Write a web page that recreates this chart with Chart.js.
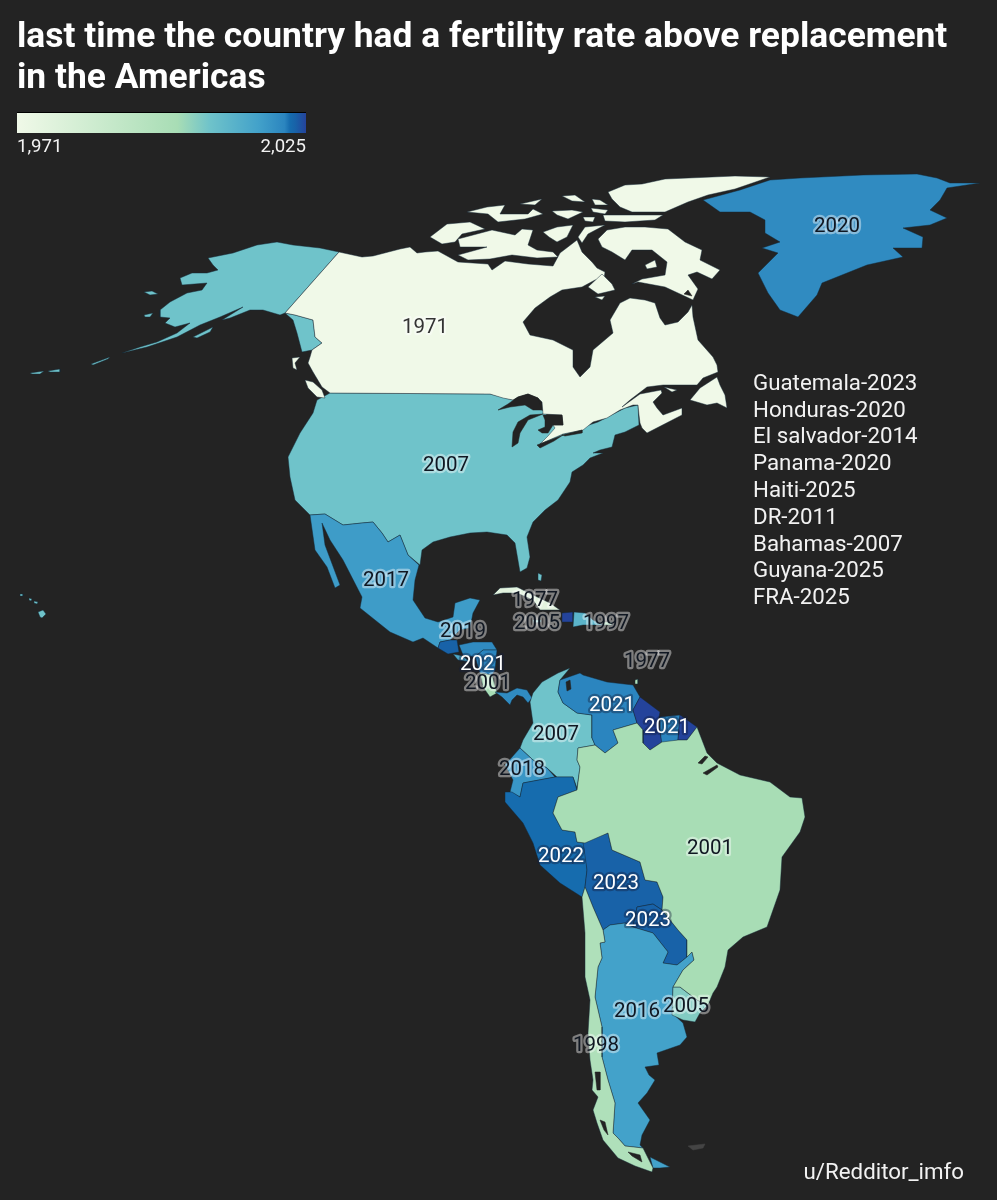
<!DOCTYPE html>
<html>
<head>
<meta charset="utf-8">
<title>last time the country had a fertility rate above replacement in the Americas</title>
<script src="https://cdn.jsdelivr.net/npm/chart.js@4"></script>
<style>
    html, body { margin: 0; padding: 0; background: #232323; }
    canvas { display: block; }
</style>
</head>
<body>
<canvas id="map" width="997" height="1200"></canvas>
<script>
const canadaMain = [[339,252],[285,313],[295,315],[313,320],[315,337],[322,343],[312,350],[310,357],[308,363],[313,372],[322,387],[330,393],[490,394],[503,398],[513,400],[518,397],[528,394],[538,398],[542,402],[543,414],[562,415],[563,425],[553,425],[555,428],[548,436],[540,444],[563,434],[583,430],[593,422],[607,418],[620,410],[633,405],[638,405],[639,415],[640,423],[642,428],[647,433],[682,415],[682,408],[663,415],[657,408],[653,402],[662,393],[661,390],[640,394],[622,407],[630,400],[647,387],[663,385],[697,385],[703,378],[718,372],[717,365],[713,357],[698,340],[693,317],[692,305],[688,312],[678,322],[665,325],[660,318],[655,303],[645,300],[630,298],[620,303],[610,320],[613,333],[593,350],[590,367],[580,377],[573,367],[573,350],[553,340],[530,335],[523,322],[535,308],[550,297],[562,290],[582,287],[595,280],[604,279],[605,272],[597,268],[592,262],[582,252],[577,240],[560,253],[553,266],[528,264],[505,261],[492,270],[488,264],[458,262],[438,251],[425,252],[417,253],[410,247],[400,249],[373,256],[362,257]];
const banks = [[430,237],[447,224],[470,222],[485,229],[462,234],[455,242],[442,244]];
const victoria = [[458,239],[492,230],[515,235],[522,229],[533,230],[528,245],[537,250],[553,252],[558,257],[537,258],[512,255],[490,259],[468,260],[458,255],[487,247],[460,247]];
const princeWales = [[543,232],[557,227],[573,225],[567,237],[557,242],[549,237]];
const somerset = [[578,237],[585,227],[605,225],[588,234],[582,243]];
const baffin = [[598,239],[607,230],[625,227],[645,227],[668,229],[685,242],[702,250],[700,260],[720,270],[712,279],[697,272],[688,275],[698,289],[693,300],[665,287],[638,282],[632,284],[642,279],[665,275],[667,262],[652,250],[632,250],[625,260],[612,252],[602,247]];
const princeCharles = [[645,265],[655,260],[657,267],[647,269]];
const southampton = [[588,287],[602,274],[612,284],[615,290],[598,294]];
const coats = [[595,297],[605,296],[602,300]];
const melville = [[467,212],[487,207],[505,205],[500,214],[528,214],[533,209],[543,214],[525,219],[498,222],[488,214]];
const arcticA = [[520,204],[542,199],[535,205]];
const arcticB = [[562,196],[575,195],[585,202],[572,201]];
const arcticC = [[552,211],[572,210],[583,212],[568,219],[557,215]];
const arcticD = [[592,199],[600,200],[608,205],[595,205]];
const arcticE = [[583,217],[595,217],[593,222],[585,221]];
const arcticF = [[591,208],[608,210],[605,214],[593,212]];
const devon = [[603,215],[638,215],[663,215],[655,220],[625,222],[605,221]];
const ellesmere = [[608,192],[625,185],[642,184],[665,179],[712,177],[735,176],[770,177],[735,189],[708,195],[688,202],[665,212],[632,212],[620,207],[612,199]];
const anticosti = [[664,387],[677,390],[672,392]];
const newfoundland = [[690,400],[700,388],[717,377],[720,385],[725,395],[727,408],[717,403],[707,405]];
const vancouverIs = [[305,380],[313,382],[322,390],[325,398],[317,397],[308,388]];
const haidaGwaii = [[292,358],[300,357],[295,363],[297,370],[293,368]];

const lowerUS = [[330,393],[490,394],[513,400],[542,410],[565,433],[598,422],[625,408],[638,405],[639,425],[625,432],[615,435],[612,447],[600,450],[593,453],[603,453],[590,458],[583,465],[572,472],[570,482],[558,500],[545,510],[533,522],[527,537],[530,557],[527,568],[520,572],[515,543],[507,535],[487,532],[470,533],[450,537],[433,542],[422,550],[420,565],[408,555],[400,535],[388,542],[382,533],[373,522],[362,523],[343,525],[325,514],[310,515],[295,500],[290,477],[288,457],[300,433],[313,413],[317,400]];
const alaska = [[339,252],[320,248],[293,245],[277,242],[257,245],[233,253],[208,258],[213,265],[218,270],[207,273],[192,273],[180,278],[182,285],[207,283],[202,290],[187,293],[170,302],[160,310],[160,317],[170,318],[165,323],[175,327],[190,323],[177,333],[157,342],[140,347],[122,353],[147,347],[177,337],[200,325],[220,317],[243,307],[222,320],[230,318],[250,310],[263,310],[280,315],[285,313]];
const panhandle = [[285,313],[295,315],[313,320],[315,337],[322,343],[312,350],[302,352],[297,333],[293,320]];
const aleutianA = [[91,364],[110,357],[108,359],[93,365]];
const aleutianB = [[48,371],[60,369],[60,372],[50,372]];
const aleutianC = [[30,373],[44,371],[40,374],[32,374]];
const kodiak = [[193,337],[213,327],[210,332],[197,338]];
const stLawrenceIs = [[144,292],[152,291],[158,294],[150,295]];
const nunivak = [[144,315],[153,313],[150,317],[145,317]];
const hawaii = [[38,612],[43,610],[46,614],[42,618],[40,617]];
const maui = [[34,601],[38,602],[37,604],[34,603]];
const oahu = [[29,598],[32,599],[31,601],[29,600]];
const kauai = [[20,594],[23,594],[23,596],[20,596]];

const greenland = [[980,183],[947,188],[940,200],[930,210],[947,218],[930,225],[903,228],[923,237],[922,248],[893,248],[903,257],[867,265],[837,277],[822,283],[817,295],[798,317],[780,310],[768,293],[758,273],[778,253],[762,248],[780,242],[765,233],[765,220],[750,212],[720,212],[703,200],[740,190],[770,180],[800,178],[863,175],[917,174],[937,178],[950,183]];

const mexico = [[310,515],[325,514],[343,525],[362,523],[373,522],[382,533],[388,542],[400,535],[408,555],[419,565],[415,580],[413,600],[425,618],[438,622],[453,617],[455,603],[470,598],[480,600],[473,613],[470,628],[460,630],[450,640],[440,642],[438,648],[423,638],[413,642],[390,632],[360,608],[362,597],[343,560],[330,540],[322,523],[325,545],[340,585],[335,588],[327,567],[315,550]];
const guatemala = [[438,648],[440,642],[450,640],[457,640],[459,652],[448,654]];
const honduras = [[459,645],[473,642],[492,642],[497,650],[483,650],[475,657],[463,655]];
const elSalvador = [[453,654],[463,656],[470,662],[458,660]];
const nicaragua = [[475,657],[483,650],[497,650],[495,670],[492,675],[480,673]];
const costaRica = [[480,673],[492,675],[497,693],[490,697],[483,687]];
const panama = [[495,692],[507,693],[517,688],[527,690],[532,698],[528,703],[523,697],[517,695],[512,700],[510,705],[502,697]];
const cuba = [[493,595],[500,588],[517,587],[533,595],[550,603],[560,610],[540,610],[533,600],[517,593],[503,593]];
const bahamas = [[538,573],[542,575],[541,581],[538,580]];
const jamaica = [[533,620],[541,620],[541,622],[534,623]];
const haiti = [[562,613],[573,612],[573,622],[562,622]];
const dominican = [[574,612],[585,613],[593,620],[603,625],[583,625],[573,627]];
const puertoRico = [[603,622],[612,622],[612,625],[603,625]];
const trinidad = [[635,680],[638,679],[638,684],[635,684]];

const colombia = [[530,702],[533,693],[542,682],[558,673],[570,668],[560,680],[558,692],[563,703],[577,713],[592,715],[592,738],[595,745],[578,748],[577,760],[580,767],[577,788],[573,777],[557,777],[547,768],[533,760],[520,748],[523,740],[533,723]];
const venezuela = [[558,692],[560,680],[580,673],[583,675],[607,682],[633,685],[640,697],[633,710],[637,723],[613,730],[618,743],[605,753],[595,745],[592,738],[592,715],[577,713],[563,703]];
const guyana = [[640,697],[660,712],[658,722],[662,742],[650,750],[643,743],[643,730],[637,723],[633,710]];
const suriname = [[660,717],[680,715],[678,740],[662,745],[660,730]];
const frenchGuiana = [[680,715],[697,727],[687,740],[678,740]];
const ecuador = [[520,748],[533,760],[547,768],[555,777],[523,783],[520,797],[510,792],[513,780],[505,765]];
const peru = [[523,783],[555,777],[573,777],[577,790],[558,797],[553,813],[562,830],[575,832],[577,842],[585,843],[587,870],[585,887],[582,897],[560,883],[540,865],[533,843],[523,823],[505,802],[505,792],[512,792],[520,797]];
const bolivia = [[583,842],[608,833],[612,850],[640,862],[645,880],[657,882],[663,897],[662,910],[653,904],[637,907],[633,927],[625,923],[610,925],[603,930],[593,907],[585,887],[587,870]];
const paraguay = [[637,907],[653,904],[662,910],[678,930],[687,940],[687,957],[677,965],[663,963],[668,952],[653,933],[633,927]];
const argentina = [[603,930],[610,925],[625,923],[633,927],[653,933],[668,952],[663,963],[677,965],[687,957],[692,952],[694,960],[683,970],[673,987],[672,1013],[683,1023],[687,1037],[680,1045],[657,1053],[659,1065],[645,1067],[649,1075],[655,1080],[647,1093],[638,1103],[650,1120],[642,1135],[640,1145],[643,1148],[625,1146],[618,1138],[613,1133],[615,1103],[608,1080],[602,1057],[602,1027],[595,997],[598,967],[602,958],[600,943],[605,942]];
const fuegoEast = [[650,1157],[670,1167],[660,1168],[653,1168]];
const chile = [[582,897],[585,887],[593,907],[603,930],[605,942],[600,943],[602,958],[598,967],[595,997],[602,1027],[602,1057],[608,1080],[615,1103],[613,1133],[618,1138],[625,1146],[643,1148],[653,1168],[652,1172],[635,1166],[618,1158],[603,1140],[597,1123],[593,1110],[598,1097],[592,1090],[593,1080],[590,1060],[588,1033],[590,1000],[585,977],[585,933]];
const uruguay = [[673,987],[680,987],[697,1000],[708,1005],[700,1013],[695,1022],[683,1020],[672,1015]];
const brazil = [[637,723],[643,730],[643,743],[650,750],[662,742],[678,740],[687,740],[697,727],[702,740],[707,753],[717,763],[740,775],[770,782],[790,797],[802,798],[805,817],[800,832],[782,857],[780,890],[767,927],[743,937],[728,950],[725,967],[717,987],[713,993],[708,1005],[697,1000],[680,987],[673,987],[683,970],[694,960],[692,952],[687,957],[687,940],[678,930],[662,910],[663,897],[657,882],[645,880],[640,862],[612,850],[608,833],[585,843],[577,842],[575,832],[562,830],[553,813],[558,797],[577,790],[580,767],[577,760],[578,748],[595,745],[605,753],[618,743],[613,730]];
const falklands = [[688,1146],[705,1144],[703,1148],[693,1150]];

// water cut back out over the land
const superior = [[498,410],[508,404],[518,397],[528,394],[538,398],[542,410],[533,410],[525,405],[510,407]];
const michigan = [[512,447],[513,432],[518,422],[530,415],[543,414],[528,420],[520,433],[518,443]];
const huron = [[543,415],[562,415],[563,425],[553,425],[548,433],[542,433],[538,430],[545,427],[545,420]];
const erie = [[537,445],[550,440],[563,435],[554,441],[540,448]];
const ontario = [[562,435],[582,430],[582,433],[565,436]];
const maracaibo = [[566,682],[570,680],[571,689],[567,691]];
const chileFjordA = [[595,1072],[600,1072],[600,1090],[597,1090]];
const chileFjordB = [[600,1120],[605,1122],[608,1135],[604,1130]];
const chileFjordC = [[628,1152],[640,1155],[642,1162],[632,1156]];
const amazonA = [[698,763],[705,756],[708,757],[702,764]];
const amazonB = [[703,773],[717,765],[718,767],[707,775]];
const baffinInlet = [[688,290],[692,296],[684,294]];

const shapes = [
    lowerUS, alaska, panhandle, aleutianA, aleutianB, aleutianC, kodiak, stLawrenceIs, nunivak, hawaii, maui, oahu, kauai, bahamas,
    canadaMain, banks, victoria, princeWales, somerset, baffin, princeCharles, southampton, coats, melville, arcticA, arcticB, arcticC, arcticD, arcticE, arcticF, devon, ellesmere, anticosti, newfoundland, vancouverIs, haidaGwaii,
    greenland, mexico, guatemala, honduras, elSalvador, nicaragua, costaRica, panama,
    cuba, jamaica, haiti, dominican, puertoRico, trinidad,
    colombia, venezuela, guyana, suriname, frenchGuiana, ecuador, peru, bolivia, paraguay, argentina, fuegoEast, chile, uruguay, brazil
];
const shapeYears = [
    2007, 2007, 2007, 2007, 2007, 2007, 2007, 2007, 2007, 2007, 2007, 2007, 2007, 2007,
    1971, 1971, 1971, 1971, 1971, 1971, 1971, 1971, 1971, 1971, 1971, 1971, 1971, 1971, 1971, 1971, 1971, 1971, 1971, 1971, 1971, 1971,
    2020, 2017, 2023, 2020, 2014, 2021, 2001, 2020,
    1977, 2005, 2025, 2011, 1997, 1998,
    2007, 2021, 2025, 2021, 2025, 2018, 2022, 2023, 2023, 2016, 2016, 1998, 2005, 2001
];
const waterShapes = [superior, michigan, huron, erie, ontario, maracaibo, chileFjordA, chileFjordB, chileFjordC, amazonA, amazonB, baffinInlet];

// values printed on the map, and where each one sits
const labelYears = ['2020', '1971', '2007', '2017', '2019', '2021', '2001', '1977', '2005', '1997', '1977', '2021', '2021', '2007', '2018', '2001', '2022', '2023', '2023', '2016', '2005', '1998'];
const labelX = [837, 425, 446, 386, 463, 483, 488, 535, 537, 606, 647, 612, 667, 556, 522, 710, 561, 616, 648, 637, 686, 596];
const labelY = [227, 328, 466, 581, 632, 665, 684, 601, 624, 624, 662, 706, 728, 735, 770, 849, 857, 884, 921, 1012, 1007, 1046];

const sideNotes = ['Guatemala-2023', 'Honduras-2020', 'El salvador-2014', 'Panama-2020', 'Haiti-2025', 'DR-2011', 'Bahamas-2007', 'Guyana-2025', 'FRA-2025'];
const sideNoteY = [384, 411, 437, 464, 491, 518, 545, 571, 598];

const titleLines = ['last time the country had a fertility rate above replacement', 'in the Americas'];
const scaleLabels = ['1,971', '2,025'];
const scaleYears = [1971, 2001, 2007, 2016, 2021, 2022, 2023, 2025];
const scaleColors = ['#f0f9e8', '#a8ddb5', '#6fc3ca', '#43a2ca', '#2b85bf', '#166cae', '#1862a8', '#24439b'];

const BACKGROUND = '#232323';
const FONT = 'Roboto, sans-serif';

function hexToRgb(hex) {
    return [1, 3, 5].map(i => parseInt(hex.slice(i, i + 2), 16));
}

function colorForYear(year) {
    for (let i = 1; i < scaleYears.length; i += 1) {
        if (year <= scaleYears[i]) {
            const t = (year - scaleYears[i - 1]) / (scaleYears[i] - scaleYears[i - 1]);
            const a = hexToRgb(scaleColors[i - 1]);
            const b = hexToRgb(scaleColors[i]);
            const mix = a.map((v, k) => Math.round(v + (b[k] - v) * t));
            return `rgb(${mix.join(',')})`;
        }
    }
    return scaleColors[scaleColors.length - 1];
}

function makeDataset(ring, fill, border, width) {
    const closed = ring.concat([ring[0]]);
    return {
        data: closed.map(p => ({ x: p[0], y: p[1] })),
        showLine: true,
        fill: 'shape',
        backgroundColor: fill,
        borderColor: border,
        borderWidth: width,
        pointRadius: 0,
        tension: 0
    };
}

const datasets = [];
shapes.forEach((ring, i) => {
    datasets.push(makeDataset(ring, colorForYear(shapeYears[i]), 'rgba(20,40,55,0.65)', 0.7));
});
datasets.push(makeDataset(falklands, '#444444', '#444444', 0.5));
waterShapes.forEach(ring => {
    datasets.push(makeDataset(ring, BACKGROUND, BACKGROUND, 0.5));
});
// later entries go on top
datasets.forEach((d, i) => { d.order = -i; });

const mapText = {
    id: 'mapText',
    afterDatasetsDraw(chart) {
        const { ctx, scales } = chart;
        const px = v => scales.x.getPixelForValue(v);
        const py = v => scales.y.getPixelForValue(v);

        ctx.save();
        ctx.textBaseline = 'middle';
        ctx.lineJoin = 'round';

        labelYears.forEach((text, i) => {
            const light = Number(text) >= 2021;
            ctx.font = `400 20.5px ${FONT}`;
            ctx.textAlign = 'center';
            ctx.lineWidth = 4.5;
            ctx.strokeStyle = light ? 'rgba(20,30,60,0.4)' : 'rgba(255,255,255,0.42)';
            ctx.strokeText(text, px(labelX[i]), py(labelY[i]));
            ctx.fillStyle = light ? '#ffffff' : (text === '1971' ? '#333333' : '#101722');
            ctx.fillText(text, px(labelX[i]), py(labelY[i]));
        });

        ctx.textAlign = 'left';
        ctx.fillStyle = '#f2f2f2';
        ctx.font = `400 22.3px ${FONT}`;
        sideNotes.forEach((text, i) => ctx.fillText(text, px(753), py(sideNoteY[i])));

        ctx.textAlign = 'right';
        ctx.fillText('u/Redditor_imfo', px(964), py(1173));

        ctx.textAlign = 'left';
        ctx.fillStyle = '#ffffff';
        ctx.font = `700 35.4px ${FONT}`;
        titleLines.forEach((text, i) => ctx.fillText(text, px(17), py(38 + i * 41)));

        // colour scale
        const left = px(17);
        const right = px(306);
        const gradient = ctx.createLinearGradient(left, 0, right, 0);
        scaleYears.forEach((year, i) => {
            gradient.addColorStop((year - 1971) / (2025 - 1971), scaleColors[i]);
        });
        ctx.fillStyle = '#000000';
        ctx.fillRect(left, py(112), right - left, 1);
        ctx.fillStyle = gradient;
        ctx.fillRect(left, py(113), right - left, 20);

        ctx.fillStyle = '#f2f2f2';
        ctx.font = `400 18.6px ${FONT}`;
        ctx.fillText(scaleLabels[0], left, py(147));
        ctx.textAlign = 'right';
        ctx.fillText(scaleLabels[1], right, py(147));
        ctx.restore();
    }
};

new Chart(document.getElementById('map').getContext('2d'), {
    type: 'scatter',
    data: { datasets: datasets },
    plugins: [mapText],
    options: {
        responsive: false,
        animation: false,
        layout: { padding: 0 },
        plugins: {
            legend: { display: false },
            title: { display: false },
            tooltip: { enabled: false }
        },
        scales: {
            x: { type: 'linear', display: false, min: 0, max: 997 },
            y: { type: 'linear', display: false, min: 0, max: 1200, reverse: true }
        }
    }
});
</script>
</body>
</html>
